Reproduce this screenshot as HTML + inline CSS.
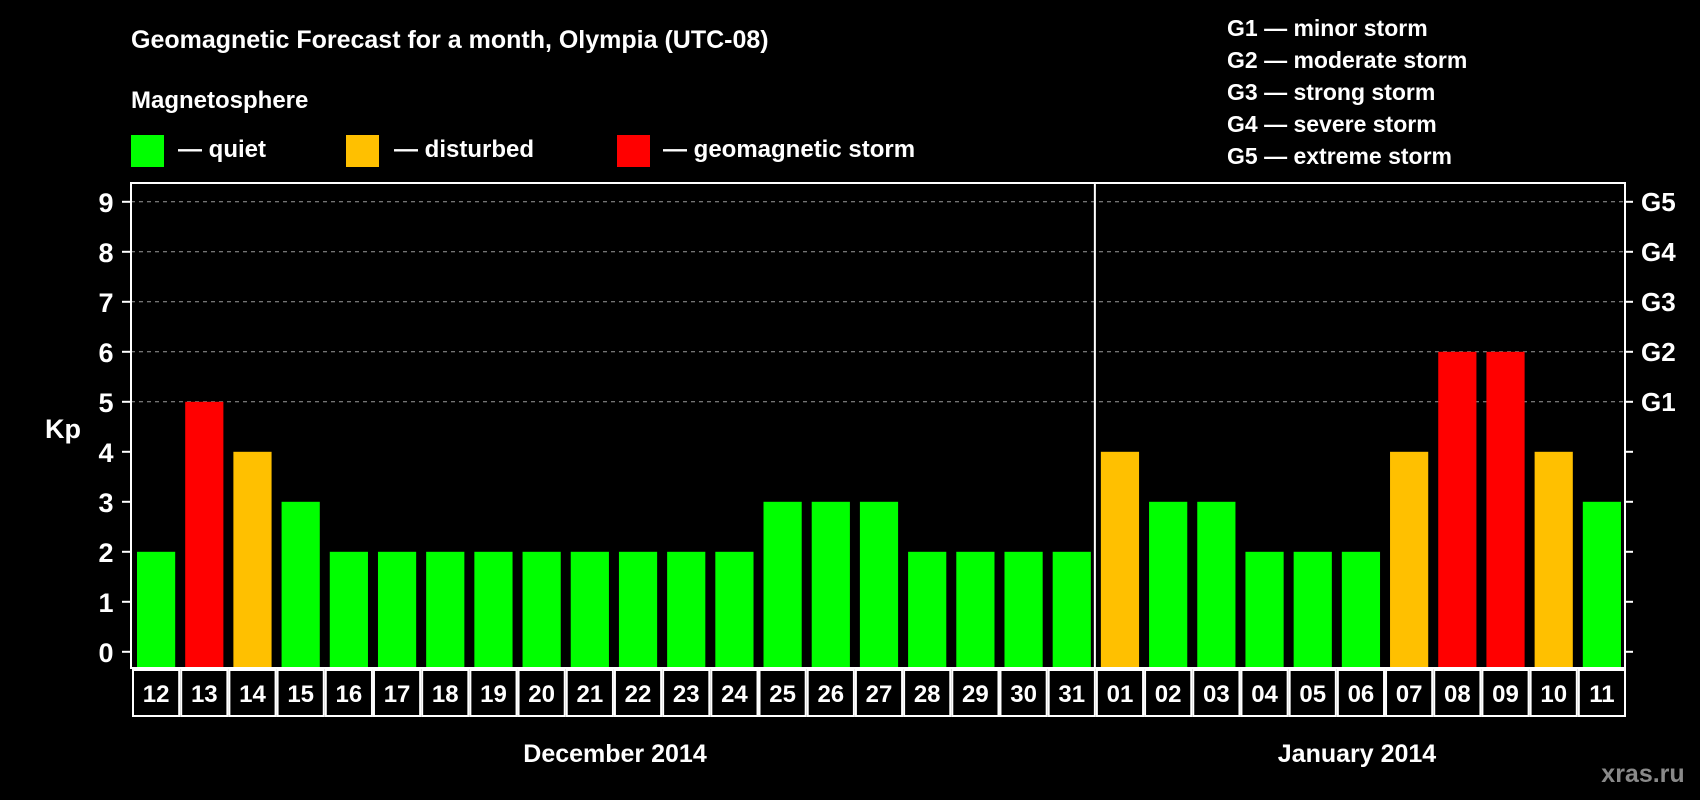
<!DOCTYPE html>
<html><head><meta charset="utf-8"><style>
body{margin:0;background:#000;width:1700px;height:800px;overflow:hidden}
svg{display:block;font-family:"Liberation Sans",sans-serif;font-weight:bold}
</style></head><body>
<svg id="c" width="1700" height="800" viewBox="0 0 1700 800">
<text x="131" y="48" fill="#fff" font-size="25">Geomagnetic Forecast for a month, Olympia (UTC-08)</text>
<text x="131" y="108" fill="#fff" font-size="24">Magnetosphere</text>
<rect x="131" y="135" width="33" height="32" fill="#00ff00"/>
<text x="178" y="157" fill="#fff" font-size="24">— quiet</text>
<rect x="346" y="135" width="33" height="32" fill="#ffc000"/>
<text x="394" y="157" fill="#fff" font-size="24">— disturbed</text>
<rect x="617" y="135" width="33" height="32" fill="#ff0000"/>
<text x="663" y="157" fill="#fff" font-size="24">— geomagnetic storm</text>
<g fill="#fff" font-size="23">
<text x="1227" y="36">G1 — minor storm</text>
<text x="1227" y="68">G2 — moderate storm</text>
<text x="1227" y="100">G3 — strong storm</text>
<text x="1227" y="132">G4 — severe storm</text>
<text x="1227" y="164">G5 — extreme storm</text>
</g>
<text x="63" y="438" fill="#fff" font-size="27" text-anchor="middle">Kp</text>
<text x="615" y="762" fill="#fff" font-size="25" text-anchor="middle">December 2014</text>
<text x="1357" y="762" fill="#fff" font-size="25" text-anchor="middle">January 2014</text>
<text x="1643" y="782" fill="#8a8a8a" font-size="25" text-anchor="middle">xras.ru</text>
<g id="plot"></g>
</svg>
<script>
const days=["12","13","14","15","16","17","18","19","20","21","22","23","24","25","26","27","28","29","30","31","01","02","03","04","05","06","07","08","09","10","11"];
const kp=[2,5,4,3,2,2,2,2,2,2,2,2,2,3,3,3,2,2,2,2,4,3,3,2,2,2,4,6,6,4,3];
const yTicks=[0,1,2,3,4,5,6,7,8,9];
const gLabels=["G1","G2","G3","G4","G5"];
const gLevels=[5,6,7,8,9];
const monthSplit=20;
const L=131,R=1625,T=183,B=668,Y0=651.8,UNIT=50;
const slot=(R-L)/days.length;
const ys=v=>Y0-v*UNIT;
const xs=i=>L+i*slot;
const NS="http://www.w3.org/2000/svg";
const g=document.getElementById('plot');
function mk(tag,at,txt){const e=document.createElementNS(NS,tag);for(const k in at)e.setAttribute(k,at[k]);if(txt!==undefined)e.textContent=txt;g.appendChild(e);return e;}
function color(v){return v>=5?"#ff0000":v>=4?"#ffc000":"#00ff00";}
gLevels.forEach((v,i)=>{
 const l=mk('line',{x1:L,x2:R,y1:ys(v),y2:ys(v),stroke:"#9a9a9a","stroke-width":1,"stroke-dasharray":"4,4"});
 
 
 const t=mk('text',{x:1641,y:ys(v)+9,fill:"#fff","font-size":26},gLabels[i]);
 
 
});
yTicks.forEach(v=>{
 const t=mk('text',{x:106,y:ys(v)+10,fill:"#fff","font-size":27,"text-anchor":"middle"},String(v));
 
 
 const a=mk('line',{x1:122,x2:L,y1:ys(v),y2:ys(v),stroke:"#fff","stroke-width":2});
 
 
 const b=mk('line',{x1:R,x2:R+8,y1:ys(v),y2:ys(v),stroke:"#fff","stroke-width":2});
 
 
});
kp.forEach((v,i)=>{
 const r=mk('rect',{x:xs(i)+6,y:ys(v),width:slot-10,height:B-1-ys(v),fill:color(v)});
 
 
 const c=mk('rect',{x:xs(i)+2,y:670,width:slot-2,height:46,fill:"none",stroke:"#fff","stroke-width":2});
 
 
 const t=mk('text',{x:xs(i)+slot/2+1,y:702,fill:"#fff","font-size":24,"text-anchor":"middle"},days[i]);
 
 
});
const f=mk('rect',{x:L,y:T,width:R-L,height:B-T,fill:"none",stroke:"#fff","stroke-width":2});


const s=mk('line',{x1:xs(monthSplit),x2:xs(monthSplit),y1:T,y2:B,stroke:"#fff","stroke-width":2});


</script>
</body></html>
